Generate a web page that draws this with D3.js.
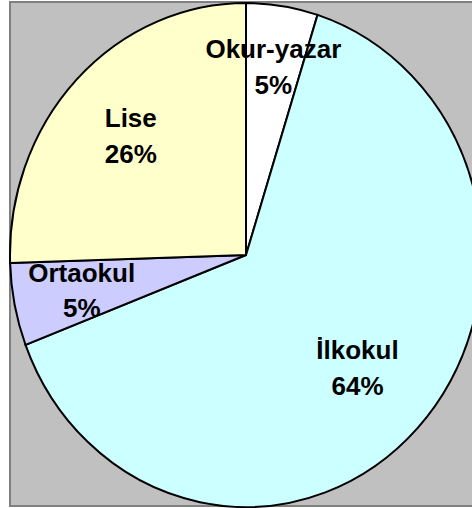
<!doctype html>
<html>
<head>
<meta charset="utf-8">
<style>
  body { margin: 0; background: #fff; }
  .label { font-family: "Liberation Sans", Arial, sans-serif; font-weight: bold; font-size: 26px; fill: #000; }
</style>
<script src="https://d3js.org/d3.v7.min.js"></script>
</head>
<body>
<svg width="472" height="508"></svg>
<script>
// data
var categories = ["Okur-yazar", "İlkokul", "Ortaokul", "Lise"];
var values = [4.9, 64.3, 5.3, 25.5];
var percentLabels = ["5%", "64%", "5%", "26%"];
var colors = ["#FFFFFF", "#CCFFFF", "#CCCCFF", "#FFFFCC"];
// how far out each label sits (fraction of radius), Excel "best fit"-ish
var labelRadius = [0.755, 0.65, 0.71, 0.68];

var svg = d3.select("svg");

// plot area (gray, Excel style)
svg.append("rect")
   .attr("x", 10).attr("y", 2)
   .attr("width", 470).attr("height", 504)
   .attr("fill", "#C0C0C0")
   .attr("stroke", "#808080")
   .attr("stroke-width", 2);

var cx = 246, cy = 255,
    rx = 236, ry = 252;

var pie = d3.pie().sort(null).value(function(d) { return d; });
var arcs = pie(values);
var arc = d3.arc().innerRadius(0).outerRadius(rx);

// pie is stretched vertically, so draw it in a scaled group
var g = svg.append("g")
   .attr("transform", "translate(" + cx + "," + cy + ") scale(1," + (ry / rx) + ")");

g.selectAll("path")
 .data(arcs)
 .enter().append("path")
 .attr("d", arc)
 .attr("fill", function(d, i) { return colors[i]; })
 .attr("stroke", "#000")
 .attr("stroke-width", 2)
 .attr("vector-effect", "non-scaling-stroke");

// labels (outside the scaled group so text is not distorted)
var lg = svg.append("g").attr("transform", "translate(" + cx + "," + cy + ")");
arcs.forEach(function(d, i) {
    var r = rx * labelRadius[i];
    var c = d3.arc().innerRadius(r).outerRadius(r).centroid(d);
    var x = c[0], y = c[1] * ry / rx;
    var t = lg.append("text")
       .attr("class", "label")
       .attr("text-anchor", "middle")
       .attr("x", x).attr("y", y);
    t.append("tspan").attr("x", x).attr("dy", "-0.33em").text(categories[i]);
    t.append("tspan").attr("x", x).attr("dy", "1.38em").text(percentLabels[i]);
});
</script>
</body>
</html>
